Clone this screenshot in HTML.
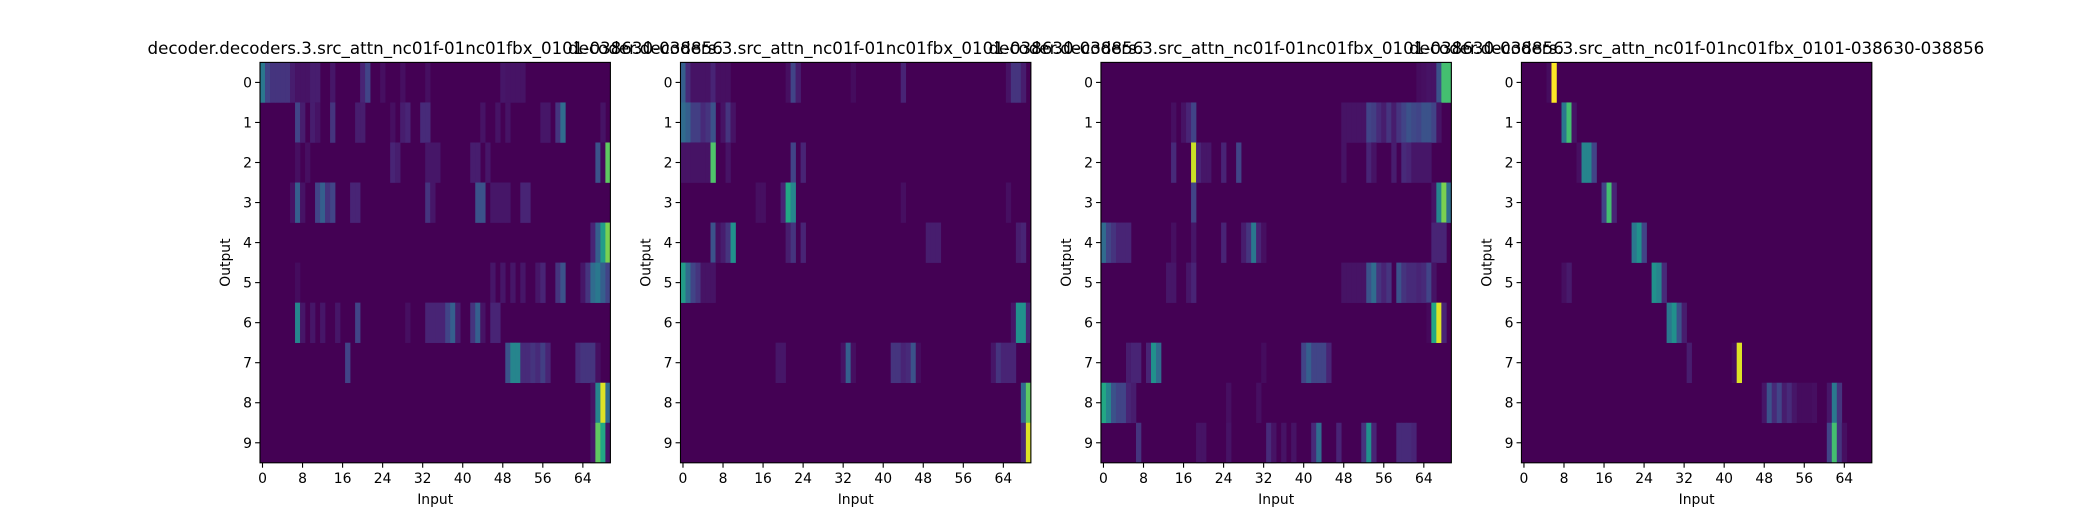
<!DOCTYPE html>
<html><head><meta charset="utf-8">
<style>
html,body{margin:0;padding:0;background:#fff;}
svg{display:block;font-family:"DejaVu Sans","Liberation Sans",sans-serif;}
</style></head>
<body>
<svg id="fig" width="2080" height="520" viewBox="0 0 2080 520" xmlns="http://www.w3.org/2000/svg"></svg>
<script>
const titles = ["decoder.decoders.3.src_attn_nc01f-01nc01fbx_0101-038630-038856","decoder.decoders.3.src_attn_nc01f-01nc01fbx_0101-038630-038856","decoder.decoders.3.src_attn_nc01f-01nc01fbx_0101-038630-038856","decoder.decoders.3.src_attn_nc01f-01nc01fbx_0101-038630-038856"];
const outputRows = [0,1,2,3,4,5,6,7,8,9];
const inputTicks = [0,8,16,24,32,40,48,56,64];
const nInputs = 70;
const baseVal = 0.0;
// sparse cells: [row, col, value]
const head1 = [[0,0,.4],[0,1,.2],[0,2,.15],[0,3,.15],[0,4,.15],[0,5,.15],[0,6,.08],[0,7,.05],[0,8,.05],[0,9,.05],[0,10,.08],[0,11,.08],[0,14,.06],[0,20,.1],[0,21,.2],[0,24,.04],[0,28,.04],[0,33,.04],[0,48,.06],[0,49,.05],[0,50,.05],[0,51,.05],[0,52,.05],
[1,7,.2],[1,8,.08],[1,10,.08],[1,11,.05],[1,14,.15],[1,19,.08],[1,20,.08],[1,26,.04],[1,28,.08],[1,29,.1],[1,32,.12],[1,33,.12],[1,44,.05],[1,47,.05],[1,49,.05],[1,56,.06],[1,57,.06],[1,59,.15],[1,60,.35],[1,68,.05],
[2,7,.04],[2,9,.04],[2,26,.1],[2,27,.08],[2,33,.06],[2,34,.06],[2,35,.06],[2,42,.08],[2,43,.08],[2,45,.06],[2,67,.25],[2,68,.02],[2,69,.75],
[3,6,.05],[3,7,.3],[3,8,.05],[3,11,.2],[3,12,.3],[3,13,.15],[3,14,.2],[3,18,.1],[3,19,.1],[3,33,.15],[3,34,.06],[3,43,.25],[3,44,.25],[3,46,.06],[3,47,.06],[3,48,.06],[3,49,.06],[3,52,.1],[3,53,.1],
[4,66,.1],[4,67,.3],[4,68,.55],[4,69,.8],
[5,7,.03],[5,46,.06],[5,48,.06],[5,50,.06],[5,52,.06],[5,55,.06],[5,56,.1],[5,59,.15],[5,60,.25],[5,64,.06],[5,65,.15],[5,66,.35],[5,67,.4],[5,68,.3],[5,69,.2],
[6,7,.45],[6,8,.06],[6,10,.06],[6,12,.06],[6,15,.06],[6,19,.2],[6,29,.04],[6,33,.1],[6,34,.1],[6,35,.1],[6,36,.1],[6,37,.2],[6,38,.3],[6,39,.08],[6,42,.15],[6,43,.3],[6,44,.05],[6,46,.1],[6,47,.1],
[7,17,.2],[7,49,.25],[7,50,.45],[7,51,.45],[7,52,.12],[7,53,.12],[7,54,.15],[7,55,.12],[7,56,.18],[7,57,.1],[7,63,.12],[7,64,.15],[7,65,.15],[7,66,.15],[7,67,.04],
[8,66,.05],[8,67,.45],[8,68,.95],[8,69,.35],
[9,66,.06],[9,67,.75],[9,68,.6],[9,69,.05]];
const head2 = [[0,0,.3],[0,1,.12],[0,2,.05],[0,3,.05],[0,4,.05],[0,5,.05],[0,6,.1],[0,7,.04],[0,8,.04],[0,9,.04],[0,21,.04],[0,22,.2],[0,23,.08],[0,34,.03],[0,44,.1],[0,65,.05],[0,66,.15],[0,67,.15],[0,68,.08],
[1,0,.35],[1,1,.3],[1,2,.18],[1,3,.18],[1,4,.12],[1,5,.15],[1,6,.25],[1,8,.05],[1,9,.15],[1,10,.05],
[2,0,.05],[2,1,.05],[2,2,.05],[2,3,.05],[2,4,.05],[2,5,.05],[2,6,.72],[2,9,.05],[2,22,.2],[2,24,.1],
[3,15,.04],[3,16,.04],[3,20,.1],[3,21,.6],[3,22,.45],[3,44,.04],[3,65,.04],
[4,6,.25],[4,7,.04],[4,8,.08],[4,9,.15],[4,10,.5],[4,21,.08],[4,22,.15],[4,24,.1],[4,49,.08],[4,50,.08],[4,51,.08],[4,67,.08],[4,68,.1],
[5,0,.55],[5,1,.35],[5,2,.2],[5,3,.15],[5,4,.05],[5,5,.05],[5,6,.05],
[6,66,.06],[6,67,.5],[6,68,.5],[6,69,.1],
[7,19,.06],[7,20,.06],[7,32,.05],[7,33,.3],[7,34,.04],[7,42,.15],[7,43,.15],[7,44,.1],[7,45,.12],[7,46,.25],[7,47,.03],[7,62,.06],[7,63,.15],[7,64,.1],[7,65,.1],[7,66,.1],
[8,68,.35],[8,69,.75],
[9,68,.1],[9,69,.95]];
const head3 = [[0,63,.03],[0,64,.04],[0,65,.05],[0,66,.05],[0,67,.25],[0,68,.7],[0,69,.7],
[1,14,.04],[1,16,.05],[1,17,.1],[1,18,.2],[1,48,.05],[1,49,.05],[1,50,.05],[1,51,.05],[1,52,.05],[1,53,.2],[1,54,.18],[1,55,.12],[1,56,.08],[1,57,.15],[1,58,.08],[1,59,.15],[1,60,.2],[1,61,.25],[1,62,.22],[1,63,.2],[1,64,.25],[1,65,.25],[1,66,.2],[1,67,.05],
[2,14,.12],[2,18,.92],[2,19,.1],[2,20,.06],[2,21,.06],[2,24,.1],[2,27,.2],[2,48,.05],[2,53,.1],[2,54,.05],[2,58,.08],[2,60,.12],[2,61,.1],[2,62,.06],[2,63,.06],[2,64,.06],[2,65,.06],
[3,18,.2],[3,66,.05],[3,67,.45],[3,68,.8],[3,69,.35],
[4,0,.35],[4,1,.2],[4,2,.15],[4,3,.1],[4,4,.1],[4,5,.1],[4,14,.04],[4,18,.06],[4,24,.1],[4,28,.08],[4,29,.15],[4,30,.4],[4,31,.1],[4,32,.04],[4,66,.1],[4,67,.1],[4,68,.1],
[5,13,.06],[5,14,.06],[5,17,.06],[5,18,.1],[5,48,.05],[5,49,.05],[5,50,.05],[5,51,.05],[5,52,.05],[5,53,.25],[5,54,.35],[5,55,.15],[5,56,.1],[5,57,.15],[5,59,.25],[5,60,.15],[5,61,.12],[5,62,.12],[5,63,.1],[5,64,.12],[5,65,.2],[5,66,.05],
[6,65,.02],[6,66,.6],[6,67,.95],[6,68,.1],
[7,5,.08],[7,6,.1],[7,7,.1],[7,9,.1],[7,10,.5],[7,11,.35],[7,32,.03],[7,40,.2],[7,41,.3],[7,42,.2],[7,43,.2],[7,44,.2],[7,45,.1],
[8,0,.6],[8,1,.45],[8,2,.25],[8,3,.2],[8,4,.2],[8,5,.1],[8,6,.08],[8,25,.04],[8,31,.04],
[9,7,.15],[9,19,.05],[9,20,.05],[9,25,.05],[9,33,.12],[9,34,.05],[9,36,.05],[9,38,.05],[9,42,.12],[9,43,.35],[9,47,.1],[9,52,.15],[9,53,.5],[9,54,.1],[9,59,.12],[9,60,.12],[9,61,.12],[9,62,.1]];
const head4 = [[0,5,.03],[0,6,1.0],
[1,8,.4],[1,9,.7],[1,10,.05],
[2,11,.04],[2,12,.45],[2,13,.45],[2,14,.2],
[3,16,.2],[3,17,.7],[3,18,.1],
[4,22,.4],[4,23,.5],[4,24,.2],
[5,8,.04],[5,9,.07],[5,26,.5],[5,27,.45],[5,28,.12],
[6,29,.4],[6,30,.5],[6,31,.25],[6,32,.08],
[7,33,.08],[7,42,.03],[7,43,.95],
[8,48,.06],[8,49,.25],[8,50,.12],[8,51,.2],[8,52,.08],[8,53,.12],[8,54,.06],[8,55,.03],[8,56,.03],[8,57,.03],[8,58,.04],[8,61,.06],[8,62,.4],[8,63,.15],
[9,61,.2],[9,62,.7],[9,63,.15],[9,64,.04]];
const heads = [head1, head2, head3, head4];

const VIR = [[0,68,1,84],[0.1,72,36,117],[0.2,65,68,135],[0.3,53,95,141],[0.4,42,120,142],[0.5,33,145,140],[0.6,34,168,132],[0.7,68,191,112],[0.8,122,209,81],[0.9,189,223,38],[1,253,231,37]];
function viridis(v){v=Math.max(0,Math.min(1,v));for(let i=1;i<VIR.length;i++){if(v<=VIR[i][0]){const a=VIR[i-1],b=VIR[i],t=(v-a[0])/(b[0]-a[0]);return `rgb(${Math.round(a[1]+t*(b[1]-a[1]))},${Math.round(a[2]+t*(b[2]-a[2]))},${Math.round(a[3]+t*(b[3]-a[3]))})`;}}return 'rgb(253,231,37)';}

const NS="http://www.w3.org/2000/svg";
const svg=document.getElementById('fig');
function mk(tag,attrs,parent){const e=document.createElementNS(NS,tag);for(const k in attrs)e.setAttribute(k,attrs[k]);(parent||svg).appendChild(e);return e;}
const panelW=350.4, gap=70.08, left0=260, plotTop=62.4, panelH=400.4;
for(let p=0;p<4;p++){
  const x0=left0+p*(panelW+gap);
  const g=mk('g',{});
  
  
  const xs=c=>x0+(c+0.5)/nInputs*panelW;
  const ys=r=>plotTop+(r+0.5)/outputRows.length*panelH;
  const cw=panelW/nInputs, rh=panelH/outputRows.length;
  const bg=mk('rect',{x:x0,y:plotTop,width:panelW,height:panelH,fill:viridis(baseVal)},g);
  
  
  heads[p].forEach(d=>{
    const r=mk('rect',{x:(xs(d[1])-cw/2).toFixed(2),y:(ys(d[0])-rh/2).toFixed(2),width:(cw+0.3).toFixed(2),height:(rh+0.3).toFixed(2),fill:viridis(d[2])},g);
    
    
  });
  const fr=mk('rect',{x:x0,y:plotTop,width:panelW,height:panelH,fill:'none',stroke:'#000','stroke-width':1.1},g);
  
  
  outputRows.forEach(r=>{
    const y=ys(r);
    mk('line',{x1:x0-4.9,x2:x0,y1:y,y2:y,stroke:'#000','stroke-width':1.1},g);
    const t=mk('text',{x:x0-8,y:y+5,'text-anchor':'end','font-size':'13.9px',fill:'#000'},g);
    t.textContent=r;
    
    
  });
  inputTicks.forEach(c=>{
    const x=xs(c);
    mk('line',{x1:x,x2:x,y1:plotTop+panelH,y2:plotTop+panelH+4.9,stroke:'#000','stroke-width':1.1},g);
    const t=mk('text',{x:x,y:plotTop+panelH+20,'text-anchor':'middle','font-size':'13.9px',fill:'#000'},g);
    t.textContent=c;
    
    
  });
  const xl=mk('text',{x:x0+panelW/2,y:504,'text-anchor':'middle','font-size':'13.9px',fill:'#000'},g);
  xl.textContent='Input';
  
  
  const yl=mk('text',{x:0,y:0,'text-anchor':'middle','font-size':'13.9px',fill:'#000',transform:`translate(${x0-30},${plotTop+panelH/2}) rotate(-90)`},g);
  yl.textContent='Output';
  
  
  const tt=mk('text',{x:x0+panelW/2,y:54,'text-anchor':'middle','font-size':'16.7px',fill:'#000'},g);
  tt.textContent=titles[p];
  
  
}
</script>
</body></html>
